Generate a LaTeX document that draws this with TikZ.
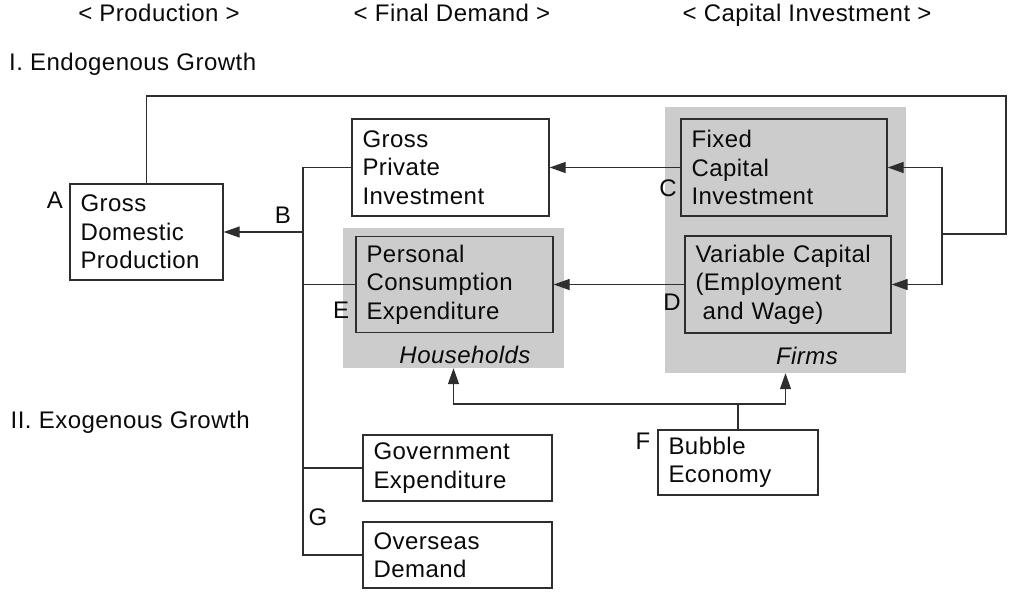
\documentclass[tikz,border=0pt]{standalone}
\usepackage{fontspec}
\setmainfont{Liberation Sans}[LetterSpace=2]
\usetikzlibrary{arrows.meta}
\definecolor{ln}{HTML}{2E2E2E}
\definecolor{gfill}{HTML}{CCCCCC}
\definecolor{tx}{HTML}{0A0A0A}
\begin{document}
\begin{tikzpicture}[x=1pt,y=-1pt,
  every node/.style={text=tx,font=\fontsize{24}{28.5}\selectfont},
  box/.style={draw=ln,line width=1.3pt,fill=white,inner xsep=10.5pt,inner ysep=0pt,align=left,anchor=center},
  gbox/.style={box,fill=gfill},
  region/.style={fill=gfill,draw=none,inner sep=0pt,anchor=center},
  wire/.style={draw=ln,line width=1.3pt},
  arr/.style={wire,-{Triangle[length=16pt,width=11pt]}},
  lbl/.style={anchor=center,inner sep=0pt}]
\useasboundingbox (0,0) rectangle (1009,592);
% titles
\node[lbl,anchor=base] (t1) at (159,21.5) {< Production >};
\node[lbl,anchor=base] (t2) at (452,21.5) {< Final Demand >};
\node[lbl,anchor=base] (t3) at (807,21.5) {< Capital Investment >};
\node[lbl,anchor=base west] (endo) at (9,70.7) {I. Endogenous Growth};
\node[lbl,anchor=base west] (exo) at (10.5,428.3) {II. Exogenous Growth};
% gray regions
\node[region,minimum width=241pt,minimum height=266pt] (firms) at (785.5,240) {};
\node[region,minimum width=221pt,minimum height=140pt] (hh) at (453.5,298) {};
\node[lbl,font=\fontsize{24}{28.5}\selectfont\itshape] (firmsl) at (807,356) {Firms};
\node[lbl,font=\fontsize{24}{28.5}\selectfont\itshape] (hhl) at (465,355) {Households};
% boxes
\node[box,text width=132pt,minimum height=96pt] (A) at (146.5,232) {Gross\\Domestic\\Production};
\node[box,text width=176pt,minimum height=97pt] (GPI) at (450.5,167.5) {Gross\\Private\\Investment};
\node[gbox,text width=176pt,minimum height=96pt] (PCE) at (454.5,284.5) {Personal\\Consumption\\Expenditure};
\node[gbox,text width=185pt,minimum height=97pt] (FC) at (784,167.5) {Fixed\\Capital\\Investment};
\node[gbox,text width=185pt,minimum height=97pt] (VC) at (788,284.5) {Variable Capital\\(Employment\\\hspace*{0.3em}and Wage)};
\node[box,text width=168pt,minimum height=66pt] (GE) at (457.5,468) {Government\\Expenditure};
\node[box,text width=168pt,minimum height=66pt] (OD) at (457.5,555) {Overseas\\Demand};
\node[box,text width=139pt,minimum height=65pt] (BE) at (738,462.5) {Bubble\\Economy};
% letters
\node[lbl] (la) at (55,200) {A};
\node[lbl] (lb) at (283,215) {B};
\node[lbl] (lc) at (668,188) {C};
\node[lbl] (ld) at (672,302) {D};
\node[lbl] (le) at (341,310) {E};
\node[lbl] (lf) at (643,441) {F};
\node[lbl] (lg) at (318,517) {G};
% coordinates
\coordinate (loopTR) at (1006,96);
\coordinate (J) at (942,234);
\coordinate (Btop) at (303,167.5);
\coordinate (Bj) at (303,232);
\coordinate (Bbot) at (303,555);
\coordinate (BEtop) at (738,404);
% connectors
\draw[wire] (A.north) |- (loopTR) |- (J);
\draw[arr] (J) |- (FC.east);
\draw[arr] (J) |- (VC.east);
\draw[arr] (FC.west) -- (GPI.east);
\draw[arr] (VC.west) -- (PCE.east);
\draw[wire] (GPI.west) -- (Btop) -- (Bbot) -- (OD.west);
\draw[wire] (PCE.west) -- (PCE.west -| Btop);
\draw[wire] (GE.west) -- (GE.west -| Btop);
\draw[arr] (Bj) -- (A.east);
\draw[wire] (BE.north) -- (BEtop);
\draw[arr] (BEtop) -| (hh.south);
\draw[arr] (BEtop) -| (firms.south);
\end{tikzpicture}
\end{document}
